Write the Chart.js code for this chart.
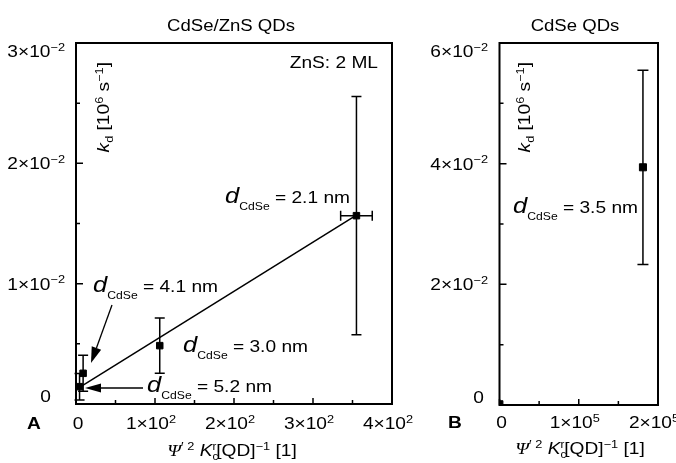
<!DOCTYPE html>
<html><head><meta charset="utf-8">
<script src="https://cdn.jsdelivr.net/npm/chart.js@4/dist/chart.umd.min.js"></script>
<style>
html,body{margin:0;padding:0;background:#fff;}
#wrap{position:relative;width:676px;height:463px;overflow:hidden;background:#fff;}
#cA{position:absolute;left:0;top:0;}
#cB{position:absolute;left:420px;top:0;}
</style></head><body>
<div id="wrap"><canvas id="cA" width="420" height="463"></canvas><canvas id="cB" width="256" height="463"></canvas></div>
<script>
// ---------- data: panel A (CdSe/ZnS QDs) ----------
const sizesA = ['5.2 nm', '4.1 nm', '3.0 nm', '2.1 nm'];
const xA = [4.5, 9, 106, 355];
const yA = [0.00144, 0.00255, 0.00485, 0.01565];
const yErrA = [0.0011, 0.0015, 0.0023, 0.0099];
const xErrA = [0, 0, 0, 20];
const fitX = [5, 355];
const fitY = [0.0014, 0.0157];
const xTicksA = [0, 100, 200, 300, 400];
const xTickLabelsA = ['0', '1×10^2', '2×10^2', '3×10^2', '4×10^2'];
const xMinorA = [50, 150, 250, 350];
const yTicksA = [0, 0.01, 0.02, 0.03];
const yTickLabelsA = ['0', '1×10^−2', '2×10^−2', '3×10^−2'];
const yMinorA = [0.005, 0.015, 0.025];

// ---------- data: panel B (CdSe QDs) ----------
const sizesB = ['3.5 nm'];
const xB = [181000];
const yB = [0.0394];
const yErrB = [0.0161];
const xErrB = [0];
const xNearOriginB = [1200];
const yNearOriginB = [0.0003];
const xTicksB = [0, 100000, 200000];
const xTickLabelsB = ['0', '1×10^5', '2×10^5'];
const xMinorB = [50000, 150000];
const yTicksB = [0, 0.02, 0.04, 0.06];
const yTickLabelsB = ['0', '2×10^−2', '4×10^−2', '6×10^−2'];
const yMinorB = [0.01, 0.03, 0.05];

// ---------- text helpers ----------
const SX = 1.16;
const SANS = '"Liberation Sans", Arial, Helvetica, sans-serif';
const SERIF = '"Liberation Serif", "Times New Roman", serif';
function seg(t, size, o) { return Object.assign({ t: t, size: size }, o || {}); }
function fontOf(s) { return (s.style || 'normal') + ' ' + (s.weight || 'normal') + ' ' + s.size + 'px ' + (s.family || SANS); }
function richWidth(ctx, segs) {
  let w = 0;
  for (const s of segs) { ctx.font = fontOf(s); if (!s.noAdv) w += ctx.measureText(s.t).width; }
  return w * SX;
}
function drawRich(ctx, x, y, segs, align) {
  const w = richWidth(ctx, segs);
  const x0 = align === 'right' ? x - w : (align === 'center' ? x - w / 2 : x);
  ctx.save();
  ctx.translate(x0, y); ctx.scale(SX, 1);
  ctx.fillStyle = '#000'; ctx.textBaseline = 'alphabetic'; ctx.textAlign = 'left';
  let cx = 0;
  for (const s of segs) {
    ctx.font = fontOf(s);
    ctx.fillText(s.t, cx, s.dy || 0);
    if (!s.noAdv) cx += ctx.measureText(s.t).width;
  }
  ctx.restore();
}
function tickSegs(lbl) {
  const p = lbl.split('^');
  const a = [seg(p[0], 16.5)];
  if (p[1]) a.push(seg(p[1], 11, { dy: -6.5 }));
  return a;
}
function dLabel(ctx, x, y, val) {
  drawRich(ctx, x, y, [seg('d', 22, { style: 'italic' }), seg('CdSe', 10.5, { dy: 6.5 }), seg(' = ' + val, 16.5)], 'left');
}
function xTitleSegs() {
  return [seg('Ψ', 17, { style: 'italic', family: SERIF }), seg('′', 12, { dy: -5 }), seg(' 2', 11, { dy: -6 }),
    seg(' ', 16.5), seg('K', 16.5, { style: 'italic' }), seg('c', 10, { dy: 4, noAdv: true }), seg('r', 10, { dy: -6 }),
    seg('[QD]', 16.5), seg('−1', 11, { dy: -6.5 }), seg(' [1]', 16.5)];
}
function yTitle(ctx, xBase, yEnd) {
  ctx.save();
  ctx.translate(xBase, yEnd); ctx.rotate(-Math.PI / 2);
  drawRich(ctx, 0, 0, [seg('k', 16.5, { style: 'italic' }), seg('d', 11, { dy: 4 }), seg(' [10', 16.5), seg('6', 11, { dy: -6.5 }),
    seg(' s', 16.5), seg('−1', 11, { dy: -6.5 }), seg(']', 16.5)], 'right');
  ctx.restore();
}
function arrowHead(ctx, tx, ty, fx, fy, len, hw) {
  const ang = Math.atan2(ty - fy, tx - fx);
  const bx = tx - len * Math.cos(ang), by = ty - len * Math.sin(ang);
  ctx.beginPath();
  ctx.moveTo(tx, ty);
  ctx.lineTo(bx + hw * Math.sin(ang), by - hw * Math.cos(ang));
  ctx.lineTo(bx - hw * Math.sin(ang), by + hw * Math.cos(ang));
  ctx.closePath(); ctx.fill();
  return [bx, by];
}

// ---------- decoration plugin ----------
function makePlugin(c) {
  return {
    id: 'deco',
    afterDraw(chart) {
      const ctx = chart.ctx, a = chart.chartArea, xs = chart.scales.x, ys = chart.scales.y;
      ctx.save();
      ctx.strokeStyle = '#000'; ctx.fillStyle = '#000';
      // error bars
      ctx.lineWidth = 1.5;
      c.x.forEach((xv, i) => {
        const px = xs.getPixelForValue(xv), py = ys.getPixelForValue(c.y[i]);
        if (c.yErr[i]) {
          const t = ys.getPixelForValue(c.y[i] + c.yErr[i]), b = ys.getPixelForValue(c.y[i] - c.yErr[i]);
          ctx.beginPath(); ctx.moveTo(px, t); ctx.lineTo(px, b);
          ctx.moveTo(px - c.cap, t); ctx.lineTo(px + c.cap, t);
          ctx.moveTo(px - c.cap, b); ctx.lineTo(px + c.cap, b); ctx.stroke();
        }
        if (c.xErr[i]) {
          const l = xs.getPixelForValue(xv - c.xErr[i]), r = xs.getPixelForValue(xv + c.xErr[i]);
          ctx.beginPath(); ctx.moveTo(l, py); ctx.lineTo(r, py);
          ctx.moveTo(l, py - c.cap); ctx.lineTo(l, py + c.cap);
          ctx.moveTo(r, py - c.cap); ctx.lineTo(r, py + c.cap); ctx.stroke();
        }
      });
      // frame
      ctx.lineWidth = 2;
      ctx.strokeRect(a.left, a.top, a.right - a.left, a.bottom - a.top);
      // ticks (inward)
      ctx.lineWidth = 1.5;
      ctx.beginPath();
      c.xTicks.forEach(v => { const p = xs.getPixelForValue(v); ctx.moveTo(p, a.bottom); ctx.lineTo(p, a.bottom - 6); });
      c.xMinor.forEach(v => { const p = xs.getPixelForValue(v); ctx.moveTo(p, a.bottom); ctx.lineTo(p, a.bottom - 4); });
      c.yTicks.forEach(v => { const p = ys.getPixelForValue(v); ctx.moveTo(a.left, p); ctx.lineTo(a.left + 7, p); });
      c.yMinor.forEach(v => { const p = ys.getPixelForValue(v); ctx.moveTo(a.left, p); ctx.lineTo(a.left + 4, p); });
      ctx.stroke();
      // tick labels
      c.xTicks.forEach((v, i) => {
        const p = xs.getPixelForValue(v);
        const lbl = c.xLabels[i];
        drawRich(ctx, lbl === '0' ? p + 2 : p - 4, c.xLabelY, tickSegs(lbl), 'center');
      });
      c.yTicks.forEach((v, i) => {
        const p = ys.getPixelForValue(v);
        const lbl = c.yLabels[i];
        let by = p + 6;
        by = Math.max(by, a.top + 14); by = Math.min(by, a.bottom - 2);
        drawRich(ctx, lbl === '0' ? c.yZeroRight : c.yLabelRight, by, tickSegs(lbl), 'right');
      });
      c.extra(ctx, chart);
      ctx.restore();
    }
  };
}

function baseOptions(pad, xMax, yMax) {
  return {
    responsive: false, animation: false, devicePixelRatio: 1,
    layout: { padding: pad },
    plugins: { legend: { display: false }, tooltip: { enabled: false }, title: { display: false } },
    scales: {
      x: { type: 'linear', min: 0, max: xMax, display: false },
      y: { type: 'linear', min: 0, max: yMax, display: false }
    }
  };
}

// ---------- chart A ----------
new Chart(document.getElementById('cA'), {
  type: 'scatter',
  data: {
    datasets: [
      { type: 'line', data: fitX.map((x, i) => ({ x: x, y: fitY[i] })), borderColor: '#000', borderWidth: 1.5, pointRadius: 0, fill: false, tension: 0 },
      { data: xA.map((x, i) => ({ x: x, y: yA[i] })), pointStyle: 'rect', pointRadius: 4.6, backgroundColor: '#000', borderColor: '#000', borderWidth: 1 }
    ]
  },
  options: baseOptions({ left: 76, top: 43, right: 28, bottom: 59 }, 400, 0.03),
  plugins: [makePlugin({
    x: xA, y: yA, yErr: yErrA, xErr: xErrA, cap: 5,
    xTicks: xTicksA, xMinor: xMinorA, xLabels: xTickLabelsA, xLabelY: 429,
    yTicks: yTicksA, yMinor: yMinorA, yLabels: yTickLabelsA, yLabelRight: 65, yZeroRight: 51,
    extra(ctx) {
      drawRich(ctx, 231, 31, [seg('CdSe/ZnS QDs', 16)], 'center');
      drawRich(ctx, 378, 68, [seg('ZnS: 2 ML', 16.5)], 'right');
      drawRich(ctx, 27, 429, [seg('A', 16.5, { weight: 'bold' })], 'left');
      drawRich(ctx, 232, 456, xTitleSegs(), 'center');
      yTitle(ctx, 109, 62);
      dLabel(ctx, 225, 203, sizesA[3]);
      dLabel(ctx, 93, 292, sizesA[1]);
      dLabel(ctx, 183, 352, sizesA[2]);
      dLabel(ctx, 147, 392, sizesA[0]);
      // arrows
      ctx.lineWidth = 1.3;
      let b = arrowHead(ctx, 85, 388, 143, 388, 16, 4.5);
      ctx.beginPath(); ctx.moveTo(143, 388); ctx.lineTo(b[0], b[1]); ctx.stroke();
      b = arrowHead(ctx, 91, 363, 112, 305, 16, 5);
      ctx.beginPath(); ctx.moveTo(112, 305); ctx.lineTo(b[0], b[1]); ctx.stroke();
    }
  })]
});

// ---------- chart B ----------
new Chart(document.getElementById('cB'), {
  type: 'scatter',
  data: {
    datasets: [
      { data: xB.map((x, i) => ({ x: x, y: yB[i] })), pointStyle: 'rect', pointRadius: 5, backgroundColor: '#000', borderColor: '#000', borderWidth: 1 },
      { data: xNearOriginB.map((x, i) => ({ x: x, y: yNearOriginB[i] })), pointStyle: 'rect', pointRadius: 3.5, backgroundColor: '#000', borderColor: '#000', borderWidth: 1 }
    ]
  },
  options: baseOptions({ left: 79.5, top: 43, right: 18, bottom: 58 }, 200000, 0.06),
  plugins: [makePlugin({
    x: xB, y: yB, yErr: yErrB, xErr: xErrB, cap: 5.5,
    xTicks: xTicksB, xMinor: xMinorB, xLabels: xTickLabelsB, xLabelY: 428,
    yTicks: yTicksB, yMinor: yMinorB, yLabels: yTickLabelsB, yLabelRight: 68, yZeroRight: 64,
    extra(ctx) {
      drawRich(ctx, 155, 31, [seg('CdSe QDs', 16)], 'center');
      drawRich(ctx, 28, 428, [seg('B', 16.5, { weight: 'bold' })], 'left');
      drawRich(ctx, 160, 454, xTitleSegs(), 'center');
      yTitle(ctx, 110, 62);
      dLabel(ctx, 93, 213, sizesB[0]);
    }
  })]
});
</script>
</body></html>
